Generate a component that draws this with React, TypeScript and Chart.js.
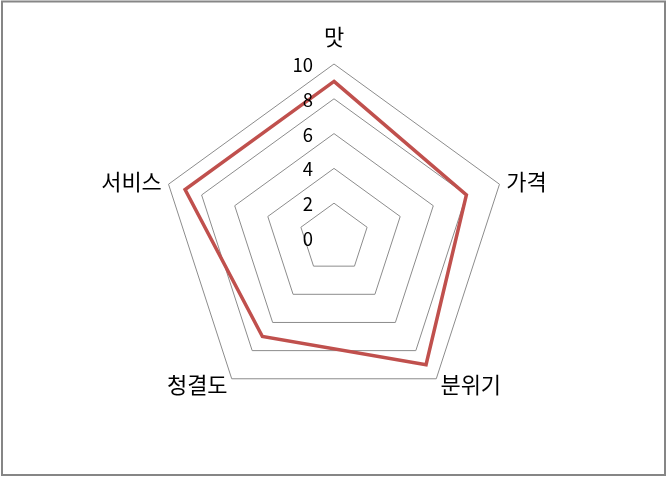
import { useEffect, useRef } from "react";
import { Chart } from "chart.js/auto";

// Restaurant rating radar (0 - 10)
const categories = ["맛", "가격", "분위기", "청결도", "서비스"];
const scores = [9, 8, 9, 7, 9];
const tickValues = [0, 2, 4, 6, 8, 10];

const LINE_COLOR = "#C0504D";
const GRID_COLOR = "#8C8C8C";
const LABEL_FONT = '"Noto Sans CJK KR", "Noto Sans", sans-serif';

// draws the Excel-like frame, the category labels and the tick numbers
const decorPlugin = {
  id: "decor",
  afterDraw(chart: any) {
    const ctx = chart.ctx as CanvasRenderingContext2D;
    const scale = chart.scales.r;
    const R = scale.drawingArea;
    const cx = scale.xCenter;

    ctx.save();
    ctx.fillStyle = "#000";

    // category labels
    ctx.font = `22px ${LABEL_FONT}`;
    ctx.textBaseline = "middle";
    categories.forEach((label, i) => {
      const pos = scale.getPointPosition(i, R + 7);
      const dx = pos.x - cx;
      let y = pos.y;
      if (Math.abs(dx) < 1) {
        ctx.textAlign = "center";
        y = pos.y - 20;
      } else {
        ctx.textAlign = dx > 0 ? "left" : "right";
      }
      ctx.fillText(label, pos.x, y);
    });

    // tick numbers, right aligned left of the vertical axis
    ctx.font = `18.5px ${LABEL_FONT}`;
    ctx.textAlign = "right";
    ctx.textBaseline = "middle";
    scale.ticks.forEach((t: any) => {
      const y = scale.yCenter - scale.getDistanceFromCenterForValue(t.value);
      ctx.fillText(String(t.value), cx - 21, y + 1);
    });

    // chart border
    ctx.strokeStyle = "#868686";
    ctx.lineWidth = 2;
    ctx.strokeRect(2, 1.5, 663, 473.5);
    ctx.restore();
  },
};

export default function App() {
  const canvasRef = useRef<HTMLCanvasElement | null>(null);
  const chartRef = useRef<Chart<"radar"> | null>(null);

  useEffect(() => {
    document.body.style.margin = "0";
    if (!canvasRef.current) return;
    if (chartRef.current) chartRef.current.destroy();

    chartRef.current = new Chart(canvasRef.current, {
      type: "radar",
      data: {
        labels: categories,
        datasets: [
          {
            label: "점수",
            data: scores,
            borderColor: LINE_COLOR,
            backgroundColor: "transparent",
            borderWidth: 3.5,
            fill: false,
            pointRadius: 0,
            pointHoverRadius: 0,
            tension: 0,
          },
        ],
      },
      options: {
        animation: false,
        responsive: true,
        maintainAspectRatio: false,
        layout: {
          padding: { left: 160, right: 160, top: 64, bottom: 65 },
        },
        plugins: {
          legend: { display: false },
          tooltip: { enabled: false },
        },
        scales: {
          r: {
            min: tickValues[0],
            max: tickValues[tickValues.length - 1],
            afterBuildTicks: (scale: any) => {
              scale.ticks = tickValues.map((v) => ({ value: v }));
            },
            angleLines: { display: false },
            grid: { color: GRID_COLOR, lineWidth: 1 },
            pointLabels: { display: false },
            ticks: { display: false, showLabelBackdrop: false },
          },
        },
      },
      plugins: [decorPlugin],
    });

    return () => {
      chartRef.current?.destroy();
      chartRef.current = null;
    };
  }, []);

  return (
    <div style={{ position: "relative", width: 668, height: 477, background: "#fff" }}>
      <canvas ref={canvasRef} />
    </div>
  );
}
